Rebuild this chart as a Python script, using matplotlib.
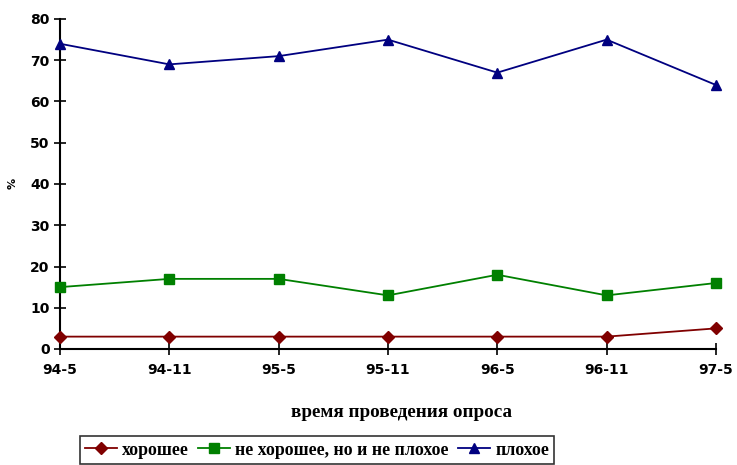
import matplotlib
matplotlib.use("Agg")
import matplotlib.pyplot as plt

periods = ["94-5", "94-11", "95-5", "95-11", "96-5", "96-11", "97-5"]
good = [3, 3, 3, 3, 3, 3, 5]
neither = [15, 17, 17, 13, 18, 13, 16]
bad = [74, 69, 71, 75, 67, 75, 64]
series_names = ["хорошее", "не хорошее, но и не плохое", "плохое"]

fig = plt.figure(figsize=(7.37, 4.65), dpi=100)
ax = fig.add_axes([60 / 737, 1 - 349 / 465, (716 - 60) / 737, (349 - 19) / 465])

x = list(range(len(periods)))
ax.plot(x, good, color="#800000", marker="D", markersize=6, lw=1.3,
        label=series_names[0], clip_on=False, zorder=3)
ax.plot(x, neither, color="#008000", marker="s", markersize=6.5, lw=1.3,
        label=series_names[1], clip_on=False, zorder=3)
ax.plot(x, bad, color="#000080", marker="^", markersize=7.5, lw=1.3,
        label=series_names[2], clip_on=False, zorder=3)

ax.set_xlim(0, len(periods) - 1)
ax.set_ylim(0, 80)
ax.set_yticks(range(0, 81, 10))
ax.set_xticks(x)
ax.set_xticklabels(periods)

for s in ("top", "right"):
    ax.spines[s].set_visible(False)
for s in ("left", "bottom"):
    ax.spines[s].set_linewidth(1.5)
ax.tick_params(axis="both", direction="inout", length=8, width=1.2,
               labelsize=10)
ax.tick_params(axis="x", pad=6)
for lab in ax.get_xticklabels() + ax.get_yticklabels():
    lab.set_fontweight("bold")
    lab.set_family("DejaVu Sans")

ax.set_ylabel("%", fontsize=8, fontweight="bold", va="center")
ax.yaxis.set_label_coords(13 / 737, 1 - 183 / 465, transform=fig.transFigure)
ax.set_xlabel("время проведения опроса", fontsize=13.8, fontweight="bold",
              family="Liberation Serif", va="center")
ax.xaxis.set_label_coords(402 / 737, 1 - 412 / 465, transform=fig.transFigure)

leg = ax.legend(loc="center", bbox_to_anchor=(317 / 737, 1 - 450 / 465),
                bbox_transform=fig.transFigure, ncol=3, frameon=True,
                fancybox=False, edgecolor="black", handlelength=1.8,
                handletextpad=0.3, columnspacing=0.5, borderpad=0.3,
                prop={"family": "Liberation Serif", "weight": "bold", "size": 12.8})
leg.get_frame().set_linewidth(1.2)

fig.savefig("out.png", dpi=100)
